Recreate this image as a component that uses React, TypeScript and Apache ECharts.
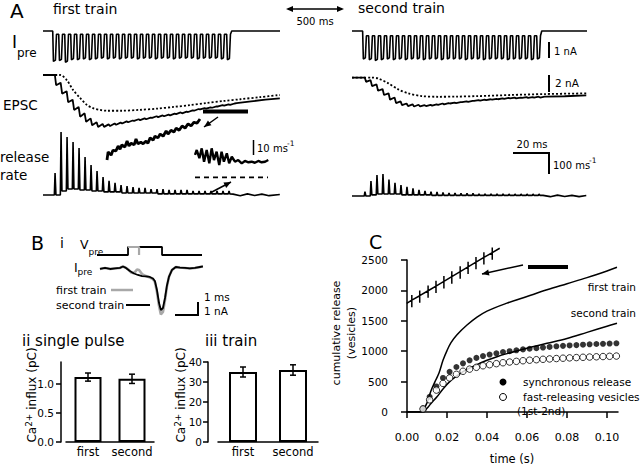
import React, { useEffect, useRef } from "react";
import * as echarts from "echarts";

type P = [number, number];
const FONT = "DejaVu Sans";
const K = "#000";
const GRAY = "#a8a8a8";

// ---------- Panel A : 300-Hz train, spike times (ms) ----------
const spikeTimes = [0, 3.33, 6.67, 10, 13.33, 16.67, 20, 23.33, 26.67, 30, 33.33, 36.67, 40, 43.33, 46.67, 50, 53.33, 56.67, 60, 63.33, 66.67, 70, 73.33, 76.67, 80, 83.33, 86.67, 90, 93.33, 96.67];

// presynaptic current (nA): peak of each spike
const ipre1Amp = [-1.9, -1.85, -1.95, -1.8, -1.8, -1.75, -1.8, -1.75, -1.7, -1.75, -1.7, -1.75, -1.7, -1.7, -1.75, -1.7, -1.7, -1.75, -1.7, -1.7, -1.75, -1.7, -1.7, -1.7, -1.75, -1.7, -1.7, -1.7, -1.75, -1.8];
const ipre2Amp = [-1.75, -1.8, -1.85, -1.8, -1.75, -1.8, -1.75, -1.8, -1.75, -1.75, -1.8, -1.75, -1.75, -1.8, -1.75, -1.75, -1.75, -1.8, -1.75, -1.75, -1.8, -1.75, -1.75, -1.75, -1.8, -1.75, -1.75, -1.75, -1.8, -1.75];
const ipre1Between = -0.2;
const ipre2Between = -0.3;

// EPSC (nA): trough after each spike and level just before the next one
const epsc1Trough = [-1.2, -2.2, -3.2, -4.1, -4.9, -5.5, -5.9, -6.1, -6.1, -6.0, -5.85, -5.7, -5.55, -5.4, -5.3, -5.2, -5.05, -4.95, -4.85, -4.75, -4.6, -4.5, -4.35, -4.2, -4.05, -3.95, -3.85, -3.7, -3.6, -3.5];
const epsc1Rest = [-0.9, -1.9, -2.9, -3.75, -4.5, -5.1, -5.55, -5.75, -5.8, -5.7, -5.6, -5.45, -5.35, -5.2, -5.1, -5.0, -4.85, -4.75, -4.65, -4.55, -4.4, -4.3, -4.15, -4.0, -3.9, -3.8, -3.7, -3.55, -3.45, -3.35];
const epsc1Tail: P[] = [[102, -3.3], [110, -3.1], [118, -2.9], [126, -2.75]];
const epsc1Dashed: P[] = [[-5.6, 0], [3.9, 0], [7.6, -0.6], [11.1, -1.75], [15, -2.7], [18.7, -3.5], [22.2, -3.9], [26, -4.1], [30, -4.2], [38, -4.2], [48, -4.1], [58, -3.95], [67, -3.75], [76, -3.55], [85, -3.3], [95, -3.05], [104, -2.85], [115, -2.6], [126, -2.35]];

const epsc2Trough = [-0.5, -1.0, -1.55, -2.05, -2.6, -3.0, -3.25, -3.35, -3.4, -3.4, -3.35, -3.3, -3.2, -3.15, -3.05, -3.0, -2.9, -2.85, -2.75, -2.7, -2.65, -2.6, -2.55, -2.5, -2.45, -2.45, -2.4, -2.4, -2.35, -2.35];
const epsc2Rest = [-0.3, -0.8, -1.35, -1.85, -2.35, -2.8, -3.05, -3.15, -3.2, -3.25, -3.2, -3.15, -3.05, -3.0, -2.95, -2.9, -2.8, -2.75, -2.65, -2.6, -2.55, -2.5, -2.45, -2.4, -2.35, -2.35, -2.3, -2.3, -2.25, -2.25];
const epsc2Tail: P[] = [[102, -2.25], [112, -2.2], [124, -2.1]];
const epsc2Dashed: P[] = [[-6.1, 0], [4.8, 0], [8.5, -0.12], [14.1, -0.68], [19.6, -1.39], [25.2, -1.86], [32.6, -2.18], [41.8, -2.26], [52, -2.24], [64, -2.18], [82, -2.05], [101, -1.94], [124, -1.86]];

// release rate (vesicles/ms): peak per spike and level between spikes
const rate1Peak = [100, 286, 264, 241, 214, 173, 136, 109, 82, 64, 55, 45, 41, 36, 32, 32, 27, 27, 27, 23, 23, 23, 23, 18, 18, 18, 18, 18, 18, 18];
const rate1Base = [0, 18, 27, 27, 23, 23, 18, 18, 14, 14, 14, 9, 9, 9, 9, 9, 9, 5, 5, 5, 5, 5, 5, 5, 5, 5, 5, 5, 5, 5];
const rate1Tail: P[] = [[100, 4], [104, -3], [108, 5], [112, -2], [116, 4], [120, -3], [126, 2]];
const rate2Peak = [20, 68, 95, 100, 75, 60, 50, 42, 35, 28, 23, 20, 18, 16, 14, 14, 12, 12, 12, 10, 10, 10, 10, 10, 9, 9, 9, 9, 9, 9];
const rate2Base = [0, 5, 9, 9, 9, 9, 5, 5, 5, 5, 5, 3, 3, 3, 3, 3, 3, 3, 3, 3, 3, 3, 3, 3, 3, 3, 3, 3, 3, 3];
const rate2Tail: P[] = [[100, 3], [104, -3], [108, 4], [112, -2], [116, 3], [120, -3], [124, 2]];

// magnified insets (window under the black bar)
const epscInset: P[] = [[83.0, -3.6], [83.3, -3.45], [84.1, -3.51], [84.6, -3.42], [85.4, -3.43], [86.0, -3.34], [86.5, -3.4], [87.0, -3.32], [87.8, -3.36], [88.4, -3.25], [88.9, -3.34], [89.5, -3.29], [90.3, -3.32], [90.8, -3.21], [91.3, -3.3], [92.1, -3.27], [92.7, -3.3], [93.5, -3.25], [94.0, -3.29], [94.6, -3.19], [95.4, -3.23], [95.9, -3.16], [96.7, -3.19], [97.3, -3.12], [98.1, -3.16], [98.9, -3.06], [99.4, -3.12], [100.2, -3.05], [101.0, -3.08], [101.6, -3.01], [102.4, -3.05], [103.2, -2.97], [104.0, -3.01], [104.8, -2.93], [105.6, -2.97], [106.4, -2.9], [107.2, -2.92], [108.0, -2.84]];
const rateInset: P[] = [[83.0, 14.9], [83.6, 18.2], [84.5, 12.7], [85.3, 19.3], [86.1, 10.4], [87.0, 18.2], [87.9, 9.3], [88.7, 19.3], [89.5, 11.5], [90.4, 17.1], [91.3, 8.2], [92.1, 17.1], [92.9, 10.4], [93.9, 16.0], [94.7, 9.3], [95.6, 13.7], [96.7, 10.4], [97.8, 11.5], [99.0, 9.3], [100.1, 10.9], [101.3, 10.0], [102.4, 10.4], [103.5, 9.7], [104.7, 10.9], [105.8, 10.0], [107.0, 10.4], [108.1, 11.5]];
const rateInsetZero: P[] = [[83, 0], [108, 0]];

// ---------- Panel B ----------
const vpreBlack: P[] = [[0, -80], [1.35, -80], [1.35, 0], [2.83, 0], [2.83, -80], [4.57, -80]];
const vpreGray: P[] = [[1.35, 0], [1.83, 0], [1.83, -80]];
const ipreBBlack: P[] = [[0.13, 0], [0.35, 0.08], [0.57, 0], [0.78, 0.04], [1.0, 0.08], [1.13, 0.19], [1.26, 0.08], [1.43, -0.15], [1.61, -0.34], [1.78, -0.45], [1.96, -0.53], [2.13, -0.56], [2.3, -0.6], [2.43, -0.71], [2.52, -0.9], [2.61, -1.58], [2.7, -2.56], [2.78, -3.08], [2.87, -2.93], [2.96, -2.18], [3.04, -1.28], [3.13, -0.6], [3.26, -0.08], [3.43, 0.15], [3.61, 0.11], [3.83, 0.08], [4.04, 0.04], [4.26, 0.08], [4.48, 0.15], [4.61, 0.19]];
const ipreBGray: P[] = [[0.13, 0], [0.35, 0.08], [0.57, 0], [0.78, 0.04], [1.0, 0.08], [1.13, 0.19], [1.26, 0.08], [1.39, -0.08], [1.48, -0.26], [1.57, -0.3], [1.65, -0.23], [1.74, -0.04], [1.83, -0.08], [1.96, -0.38], [2.13, -0.53], [2.3, -0.64], [2.43, -0.75], [2.52, -0.98], [2.61, -1.73], [2.7, -2.78], [2.78, -3.42], [2.87, -3.23], [2.96, -2.33], [3.04, -1.35], [3.13, -0.6], [3.26, -0.08], [3.43, 0.15], [3.61, 0.11], [3.83, 0.08], [4.04, 0.04], [4.26, 0.08], [4.48, 0.15], [4.61, 0.19]];

const trainCats = ["first", "second"];
const singlePulse = [1.12, 1.09];
const singlePulseErr = [0.07, 0.08];
const singleTicks = [0, 0.5, 1.0];
const trainInflux = [35, 36];
const trainInfluxErr = [2.5, 2.6];

// ---------- Panel C ----------
const cXTicks = [0, 0.02, 0.04, 0.06, 0.08, 0.1];
const firstTrainCum: P[] = [[0, 0], [0.0065, 0], [0.008, 30], [0.01, 150], [0.012, 350], [0.014, 500], [0.016, 640], [0.018, 850], [0.02, 1010], [0.022, 1140], [0.025, 1270], [0.03, 1430], [0.035, 1560], [0.04, 1660], [0.05, 1790], [0.06, 1900], [0.07, 2010], [0.08, 2110], [0.09, 2210], [0.1, 2320], [0.105, 2380]];
const secondTrainCum: P[] = [[0, 0], [0.008, 0], [0.01, 60], [0.012, 140], [0.015, 250], [0.018, 380], [0.022, 520], [0.026, 620], [0.03, 700], [0.035, 780], [0.04, 850], [0.045, 910], [0.05, 960], [0.06, 1050], [0.07, 1130], [0.08, 1210], [0.09, 1310], [0.1, 1410], [0.105, 1460]];
const pulseTimesS = [0.008, 0.0113, 0.0147, 0.018, 0.0213, 0.0247, 0.028, 0.0313, 0.0347, 0.038, 0.0413, 0.0447, 0.048, 0.0513, 0.0547, 0.058, 0.0613, 0.0647, 0.068, 0.0713, 0.0747, 0.078, 0.0813, 0.0847, 0.088, 0.0913, 0.0947, 0.098, 0.1013, 0.1047];
const syncRelease = [60, 250, 420, 560, 660, 740, 800, 850, 890, 920, 945, 965, 985, 1000, 1015, 1030, 1040, 1050, 1060, 1070, 1080, 1088, 1095, 1100, 1107, 1113, 1118, 1122, 1126, 1130];
const fastReleasing = [50, 200, 360, 470, 560, 620, 670, 705, 735, 760, 778, 795, 810, 822, 833, 843, 852, 860, 867, 873, 879, 885, 890, 895, 900, 904, 908, 912, 916, 920];
const cInsetEnds: P[] = [[60, 1900], [80, 2110]];
const cInsetTickT = [61.1, 62.8, 64.6, 66.3, 68.0, 69.7, 71.5, 73.2, 74.9, 76.6, 78.4];
const cInsetTickV = [1912, 1929, 1948, 1966, 1984, 2002, 2021, 2039, 2057, 2075, 2093];

// ---------- trace builders ----------
function buildIpre(amps: number[], between: number, t0: number, t1: number): P[] {
  const d: P[] = [[t0, 0]];
  amps.forEach((a, k) => {
    const t = spikeTimes[k];
    d.push([t - 0.2, k === 0 ? 0 : between], [t + 0.2, a], [t + 1.3, a * 0.96], [t + 1.9, between]);
  });
  const last = spikeTimes[spikeTimes.length - 1];
  d.push([last + 2.6, 0], [t1, 0]);
  return d;
}
function buildEpsc(trough: number[], rest: number[], tail: P[], t0: number): P[] {
  const d: P[] = [[t0, 0], [spikeTimes[0] + 1.0, 0]];
  trough.forEach((v, k) => {
    const t = spikeTimes[k];
    d.push([t + 1.7, v], [t + 4.2, rest[k]]);
  });
  tail.forEach((p) => d.push(p));
  return d;
}
function buildRate(peak: number[], base: number[], tail: P[], t0: number): P[] {
  const d: P[] = [[t0, 0]];
  peak.forEach((p, k) => {
    const t = spikeTimes[k];
    const prev = k ? base[k - 1] : 0;
    d.push([t + 0.7, prev], [t + 1.1, p], [t + 1.6, base[k]]);
  });
  tail.forEach((p) => d.push(p));
  return d;
}
function buildInsetC(): P[] {
  const d: P[] = [cInsetEnds[0]];
  cInsetTickT.forEach((t, i) => {
    const v = cInsetTickV[i];
    d.push([t, v], [t, v + 20], [t, v - 27], [t, v]);
  });
  d.push(cInsetEnds[1]);
  return d;
}

// ---------- graphic helpers ----------
const txt = (x: number, y: number, text: string, size: number, extra: any = {}) => ({
  type: "text", x, y, silent: true,
  style: { text, fontSize: size, fontFamily: FONT, fill: K, align: "left", verticalAlign: "middle", ...extra },
});
const rtxt = (x: number, y: number, text: string, size: number, extra: any = {}) => ({
  type: "text", x, y, rotation: Math.PI / 2, silent: true,
  style: { text, fontSize: size, fontFamily: FONT, fill: K, align: "center", verticalAlign: "middle", ...extra },
});
const seg = (x1: number, y1: number, x2: number, y2: number, w = 1.5, color = K) => ({
  type: "line", silent: true, shape: { x1, y1, x2, y2 }, style: { stroke: color, lineWidth: w },
});
const poly = (points: number[][], w = 2) => ({
  type: "polyline", silent: true, shape: { points }, style: { stroke: K, lineWidth: w, fill: null },
});
function head(x1: number, y1: number, x2: number, y2: number, len = 7, half = 3) {
  const dx = x2 - x1, dy = y2 - y1;
  const L = Math.hypot(dx, dy);
  const ux = dx / L, uy = dy / L;
  const bx = x2 - ux * len, by = y2 - uy * len;
  return {
    type: "polygon", silent: true,
    shape: { points: [[x2, y2], [bx - uy * half, by + ux * half], [bx + uy * half, by - ux * half]] },
    style: { fill: K },
  };
}
const arrow = (x1: number, y1: number, x2: number, y2: number) => [seg(x1, y1, x2, y2, 1.5), head(x1, y1, x2, y2)];
const caLabel = (x: number, y: number) => rtxt(x, y, "{a|Ca}{b|2+}{a| influx (pC)}", 12, {
  rich: {
    a: { fontSize: 12, fontFamily: FONT, fill: K, lineHeight: 14, verticalAlign: "bottom" },
    b: { fontSize: 9, fontFamily: FONT, fill: K, lineHeight: 9, verticalAlign: "top", padding: [0, 0, 8, 0] },
  },
});

function buildOption(): any {
  const grids = [
    { left: 43, top: 27.8, width: 237, height: 35.2 }, // 0 Ipre first
    { left: 352, top: 27.8, width: 235, height: 35.2 }, // 1 Ipre second
    { left: 43, top: 72.45, width: 237, height: 57 }, // 2 EPSC first
    { left: 352, top: 75, width: 235, height: 57 }, // 3 EPSC second
    { left: 43, top: 129, width: 237, height: 70.4 }, // 4 rate first
    { left: 352, top: 130, width: 235, height: 70.4 }, // 5 rate second
    { left: 107, top: 116.8, width: 93, height: 45.9 }, // 6 EPSC inset
    { left: 195, top: 144.3, width: 73, height: 36 }, // 7 rate inset
    { left: 97, top: 247, width: 105, height: 8 }, // 8 Vpre
    { left: 97, top: 265, width: 105, height: 51.9 }, // 9 Ipre B
    { left: 66, top: 362, width: 88, height: 80 }, // 10 single pulse
    { left: 218, top: 362, width: 100, height: 80 }, // 11 train
    { left: 407, top: 260, width: 211, height: 152 }, // 12 C
    { left: 406.7, top: 240.4, width: 93, height: 70.8 }, // 13 C inset
  ].map((g) => ({ ...g, containLabel: false, outerBoundsMode: "none", show: false }));

  const hx = (gi: number, min: number, max: number) => ({ type: "value", gridIndex: gi, min, max, show: false });
  const axLine = { show: true, lineStyle: { color: K, width: 1.5 } };
  const axTick = (len: number, extra: any = {}) => ({ show: true, length: len, lineStyle: { color: K, width: 1.5 }, ...extra });
  const axLabel = (size: number, margin: number, extra: any = {}) => ({ color: K, fontSize: size, fontFamily: FONT, margin, hideOverlap: false, ...extra });
  const catLabel = axLabel(11.5, 4, { interval: 0 });

  const xAxis: any[] = [
    hx(0, -5.6, 126.1), hx(1, -6.1, 124.4), hx(2, -5.6, 126.1), hx(3, -6.1, 124.4), hx(4, -5.6, 126.1), hx(5, -6.1, 124.4),
    hx(6, 83, 108), hx(7, 83, 108), hx(8, 0, 4.57), hx(9, 0, 4.57),
    { type: "category", gridIndex: 10, data: trainCats, axisLine: axLine, axisTick: { show: false }, axisLabel: catLabel },
    { type: "category", gridIndex: 11, data: trainCats, axisLine: axLine, axisTick: { show: false }, axisLabel: catLabel },
    {
      type: "value", gridIndex: 12, min: 0, max: 0.1055, offset: 8, axisLine: axLine,
      axisTick: axTick(6, { customValues: cXTicks }),
      axisLabel: axLabel(11, 12, { customValues: cXTicks, formatter: (v: number) => v.toFixed(2) }),
      splitLine: { show: false },
    },
    hx(13, 60, 80),
  ];
  const yAxis: any[] = [
    hx(0, -2.0, 0.2), hx(1, -2.0, 0.2), hx(2, -6.4, 0.3), hx(3, -6.4, 0.3), hx(4, -20, 300), hx(5, -20, 300),
    hx(6, -3.65, -2.8), hx(7, -2, 22), hx(8, -80, 0), hx(9, -3.6, 0.3),
    {
      type: "value", gridIndex: 10, min: 0, max: 1.38, offset: 5, axisLine: axLine,
      axisTick: axTick(5, { customValues: singleTicks }),
      axisLabel: axLabel(10.5, 7, { customValues: singleTicks, formatter: (v: number) => v.toFixed(1) }),
      splitLine: { show: false },
    },
    {
      type: "value", gridIndex: 11, min: 0, max: 40, interval: 10, offset: 10, axisLine: axLine,
      axisTick: axTick(5), axisLabel: axLabel(10.5, 6, { formatter: (v: number) => String(v) }), splitLine: { show: false },
    },
    {
      type: "value", gridIndex: 12, min: 0, max: 2500, interval: 500, offset: 10, axisLine: axLine,
      axisTick: axTick(6), axisLabel: axLabel(10.5, 9, { formatter: (v: number) => String(v) }), splitLine: { show: false },
    },
    hx(13, 1870, 2140),
  ];

  const line = (gi: number, data: P[], width: number, extra: any = {}) => ({
    type: "line", xAxisIndex: gi, yAxisIndex: gi, data, showSymbol: false, symbol: "none", silent: true,
    smooth: extra.smooth ?? false,
    lineStyle: { color: K, width, ...(extra.lineStyle || {}) }, z: extra.z ?? 2,
  });
  const errBars = (gi: number, vals: number[], errs: number[]) => ({
    type: "custom", xAxisIndex: gi, yAxisIndex: gi, silent: true, z: 5,
    data: vals.map((v, i) => [i, v - errs[i], v + errs[i]]),
    encode: { x: 0, y: [1, 2] },
    renderItem: (_p: any, api: any) => {
      const i = api.value(0);
      const lo = api.coord([i, api.value(1)]);
      const hi = api.coord([i, api.value(2)]);
      const w = 3;
      const st = { stroke: K, lineWidth: 1.5 };
      return {
        type: "group",
        children: [
          { type: "line", shape: { x1: lo[0], y1: lo[1], x2: hi[0], y2: hi[1] }, style: st },
          { type: "line", shape: { x1: lo[0] - w, y1: lo[1], x2: lo[0] + w, y2: lo[1] }, style: st },
          { type: "line", shape: { x1: hi[0] - w, y1: hi[1], x2: hi[0] + w, y2: hi[1] }, style: st },
        ],
      };
    },
  });
  const bars = (gi: number, vals: number[], w: number) => ({
    type: "bar", xAxisIndex: gi, yAxisIndex: gi, data: vals, barWidth: w, silent: true,
    itemStyle: { color: "#fff", borderColor: K, borderWidth: 2 },
  });

  const series: any[] = [
    line(0, buildIpre(ipre1Amp, ipre1Between, -5.6, 126.1), 1.6),
    line(1, buildIpre(ipre2Amp, ipre2Between, -6.1, 124.4), 1.6),
    line(2, buildEpsc(epsc1Trough, epsc1Rest, epsc1Tail, -5.6), 1.8),
    line(2, epsc1Dashed, 1.8, { lineStyle: { type: [2, 2] }, smooth: 0.3 }),
    line(3, buildEpsc(epsc2Trough, epsc2Rest, epsc2Tail, -6.1), 1.8),
    line(3, epsc2Dashed, 1.8, { lineStyle: { type: [2, 2] }, smooth: 0.3 }),
    line(4, buildRate(rate1Peak, rate1Base, rate1Tail, -5.6), 1.6),
    line(5, buildRate(rate2Peak, rate2Base, rate2Tail, -6.1), 1.6),
    line(6, epscInset, 2.8),
    line(7, rateInset, 2.4),
    line(7, rateInsetZero, 1.8, { lineStyle: { type: [5, 4] } }),
    line(8, vpreBlack, 1.8),
    line(8, vpreGray, 2.2, { lineStyle: { color: GRAY }, z: 3 }),
    line(9, ipreBGray, 2.6, { lineStyle: { color: GRAY }, z: 2 }),
    line(9, ipreBBlack, 1.8, { z: 3 }),
    bars(10, singlePulse, 27),
    errBars(10, singlePulse, singlePulseErr),
    bars(11, trainInflux, 28),
    errBars(11, trainInflux, trainInfluxErr),
    line(12, firstTrainCum, 1.5, { smooth: 0.35 }),
    line(12, secondTrainCum, 1.5, { smooth: 0.35 }),
    {
      type: "scatter", xAxisIndex: 12, yAxisIndex: 12, silent: true, symbol: "circle", symbolSize: 6, z: 4,
      data: pulseTimesS.map((t, i) => [t, syncRelease[i]]), itemStyle: { color: K },
    },
    {
      type: "scatter", xAxisIndex: 12, yAxisIndex: 12, silent: true, symbol: "circle", symbolSize: 6.5, z: 4,
      data: pulseTimesS.map((t, i) => [t, fastReleasing[i]]),
      itemStyle: { color: "#fff", borderColor: K, borderWidth: 1 },
    },
    line(13, buildInsetC(), 1.5),
  ];

  const graphic: any[] = [
    // Panel A
    txt(10, 11, "A", 20),
    txt(53, 9, "first train", 14),
    txt(358, 8, "second train", 14),
    seg(288, 9, 342, 9, 1.5), head(288, 9, 344, 9), head(342, 9, 286, 9),
    txt(315, 21, "500 ms", 10, { align: "center" }),
    txt(12, 42, "I", 17), txt(17, 53, "pre", 12),
    txt(3, 105, "EPSC", 13.5),
    txt(0, 157, "release", 13.5), txt(0, 175, "rate", 13.5),
    seg(549, 42, 549, 58, 2), txt(554, 51, "1 nA", 10),
    seg(549, 75, 549, 92, 2), txt(555, 83, "2 nA", 10.5),
    poly([[513, 153], [549, 153], [549, 174]], 2),
    txt(532, 144, "20 ms", 10, { align: "center" }),
    txt(553, 165, "100 ms", 10), txt(589, 160, "-1", 7.5),
    seg(253.5, 140, 253.5, 155, 1.5), txt(257, 148, "10 ms", 10), txt(287, 143, "-1", 7.5),
    { type: "rect", silent: true, shape: { x: 203, y: 109.5, width: 45, height: 4 }, style: { fill: K } },
    ...arrow(218, 117, 204, 127),
    ...arrow(210, 193, 231, 182),
    // Panel B
    txt(31, 243, "B", 19),
    txt(60, 243, "i", 14),
    txt(80, 244, "V", 12.5), txt(88.5, 252, "pre", 9),
    txt(74, 267, "I", 12.5), txt(77.5, 272, "pre", 9),
    txt(56, 290, "first train", 11), seg(111, 290, 133, 290, 2.5, GRAY),
    txt(56, 305, "second train", 11), seg(126, 305, 150, 305, 2),
    poly([[175, 315], [198, 315], [198, 302]], 2),
    txt(204, 297, "1 ms", 10.5), txt(204, 311, "1 nA", 10.5),
    txt(22, 341, "ii single pulse", 15),
    txt(205, 341, "iii train", 15),
    caLabel(31, 395),
    caLabel(180, 395),
    // Panel C
    txt(369, 242, "C", 19),
    rtxt(336, 333, "cumulative release", 11),
    rtxt(351, 333, "(vesicles)", 11),
    txt(512, 459, "time (s)", 11.5, { align: "center" }),
    txt(636, 287, "first train", 10.5, { align: "right" }),
    txt(636, 313, "second train", 10.5, { align: "right" }),
    { type: "circle", silent: true, shape: { cx: 503, cy: 382, r: 3.5 }, style: { fill: K } },
    txt(523, 382, "synchronous release", 10.5),
    { type: "circle", silent: true, shape: { cx: 503, cy: 397, r: 3.5 }, style: { fill: "#fff", stroke: K, lineWidth: 1 } },
    txt(523, 397, "fast-releasing vesicles", 10.5),
    txt(517, 411, "(1st-2nd)", 10.5),
    { type: "rect", silent: true, shape: { x: 528, y: 265, width: 40, height: 4 }, style: { fill: K } },
    ...arrow(523, 265, 482, 274),
  ];

  return {
    animation: false,
    backgroundColor: "#fff",
    textStyle: { fontFamily: FONT, color: K },
    grid: grids,
    xAxis,
    yAxis,
    series,
    graphic: { elements: graphic },
  };
}

export default function App() {
  const ref = useRef<HTMLDivElement>(null);
  useEffect(() => {
    if (!ref.current) return;
    const chart = echarts.init(ref.current, undefined, { renderer: "svg" });
    chart.setOption(buildOption());
    return () => chart.dispose();
  }, []);
  return <div ref={ref} style={{ position: "fixed", left: 0, top: 0, width: 640, height: 467 }} />;
}
